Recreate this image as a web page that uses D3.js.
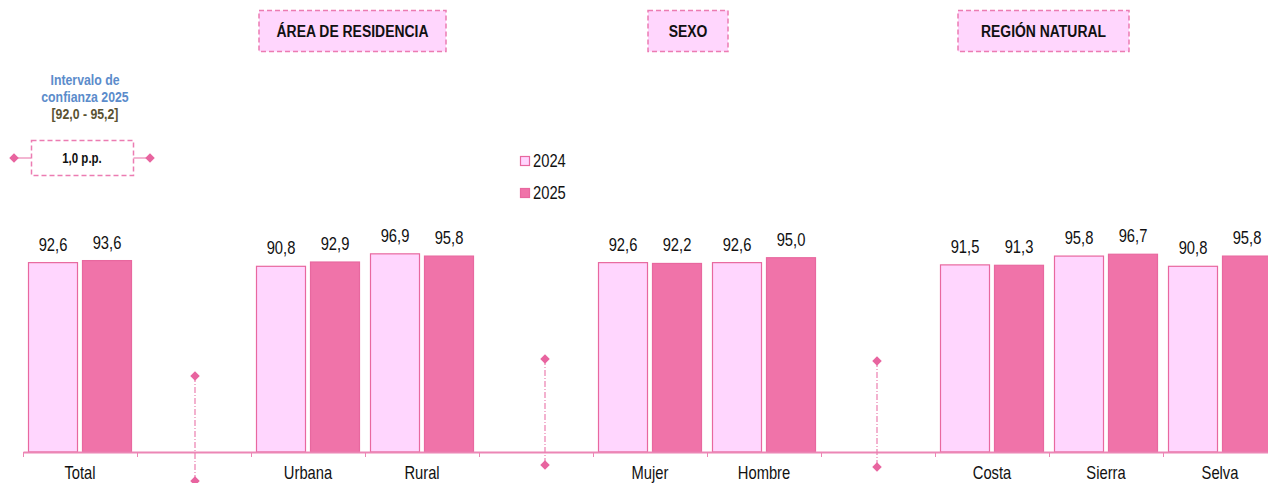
<!DOCTYPE html>
<html>
<head>
<meta charset="utf-8">
<script src="https://cdn.jsdelivr.net/npm/d3@7"></script>
<style>
  html, body { margin: 0; padding: 0; background: #fff; }
  svg { display: block; }
  text { font-family: "Liberation Sans", Arial, sans-serif; }
</style>
</head>
<body>
<div id="chart"></div>
<script>
// ---- data ----
const categories = ["Total", "", "Urbana", "Rural", " ", "Mujer", "Hombre", "  ", "Costa", "Sierra", "Selva"];
const series = ["2024", "2025"];
const values2024 = [92.6, null, 90.8, 96.9, null, 92.6, 92.6, null, 91.5, 95.8, 90.8];
const values2025 = [93.6, null, 92.9, 95.8, null, 92.2, 95.0, null, 91.3, 96.7, 95.8];
const groupHeaders = ["ÁREA DE RESIDENCIA", "SEXO", "REGIÓN NATURAL"];
const intervalTitle = ["Intervalo de", "confianza 2025"];
const intervalRange = "[92,0 - 95,2]";
const intervalWidth = "1,0 p.p.";

const W = 1268, H = 483;
const colors = { "2024": "#FFD6FE", "2025": "#F073A9" };
const strokeCol = "#E8689F";
const axisCol = "#EC86B5";
const NARROW = 0.82;
const fmt = v => d3.format(".1f")(v).replace(".", ",");

const svg = d3.select("#chart").append("svg").attr("width", W).attr("height", H);

// condensed text helper
function ntext(parent, tx, ty, str, opts = {}) {
  return parent.append("text")
    .attr("transform", `translate(${tx},${ty}) scale(${NARROW},1)`)
    .attr("text-anchor", opts.anchor || "middle")
    .attr("font-size", opts.size || 17)
    .attr("font-weight", opts.weight || "normal")
    .attr("fill", opts.fill || "#111")
    .text(str);
}

const x = d3.scaleBand().domain(categories).range([23, 1277]).padding(0);
const xs = d3.scaleBand().domain(series).range([0, x.bandwidth()]).paddingInner(0.074).paddingOuter(0.0926);
const y = d3.scaleLinear().domain([0, 100]).range([452, 247.5]);

const rows = categories.map((c, i) => ({ c, v: { "2024": values2024[i], "2025": values2025[i] } }));

// bars
const g = svg.append("g");
rows.forEach(r => {
  series.forEach(s => {
    const v = r.v[s];
    if (v == null) return;
    const bx = x(r.c) + xs(s);
    g.append("rect")
      .attr("x", bx + 0.5).attr("y", y(v))
      .attr("width", xs.bandwidth() - 1).attr("height", y(0) - y(v))
      .attr("fill", colors[s]).attr("stroke", strokeCol).attr("stroke-width", 1.2);
    ntext(g, bx + xs.bandwidth() / 2, y(v) - 12, fmt(v), { size: 18 });
  });
});

// axis
const axis = d3.axisBottom(x).tickSize(0).tickFormat(d => d.trim());
const ag = svg.append("g").attr("transform", `translate(0,${y(0)})`).call(axis);
ag.select(".domain").attr("stroke", axisCol).attr("stroke-width", 2);
ag.selectAll(".tick text")
  .attr("font-size", 18).attr("fill", "#111").attr("dy", 0).attr("y", 0)
  .attr("transform", `translate(0,27) scale(${NARROW},1)`)
  .style("font-family", '"Liberation Sans", Arial, sans-serif');
// boundary ticks
const bounds = categories.map(c => x(c)).concat([x.range()[1]]);
svg.append("g").selectAll("line").data(bounds).join("line")
  .attr("x1", d => d + 0.5).attr("x2", d => d + 0.5)
  .attr("y1", y(0)).attr("y2", y(0) + 5)
  .attr("stroke", axisCol).attr("stroke-width", 1);

// diamond marker
const diamondPath = d3.symbol().type(d3.symbolSquare).size(45)();
function diamond(cx, cy) {
  svg.append("path").attr("d", diamondPath)
    .attr("transform", `translate(${cx},${cy}) rotate(45)`)
    .attr("fill", "#E8649F");
}

// separators (dash-dot with diamonds)
const seps = [
  { c: "", dx: 1, top: 376, bot: 481 },
  { c: " ", dx: 9, top: 359, bot: 465 },
  { c: "  ", dx: -1, top: 361, bot: 467 }
];
seps.forEach(s => {
  const sx = x(s.c) + x.bandwidth() / 2 + s.dx;
  svg.append("line").attr("x1", sx).attr("x2", sx).attr("y1", s.top).attr("y2", s.bot)
    .attr("stroke", "#EC7FB0").attr("stroke-width", 1.2).attr("stroke-dasharray", "6,2,1,2");
  diamond(sx, s.top);
  diamond(sx, s.bot);
});

// group headers
const headerBoxes = [
  { t: groupHeaders[0], x0: 259, x1: 446 },
  { t: groupHeaders[1], x0: 648, x1: 728 },
  { t: groupHeaders[2], x0: 958, x1: 1129 }
];
headerBoxes.forEach(h => {
  svg.append("rect").attr("x", h.x0).attr("y", 10.5).attr("width", h.x1 - h.x0).attr("height", 41)
    .attr("fill", "#FFD6FD").attr("stroke", "#EC7CB2").attr("stroke-width", 1.5)
    .attr("stroke-dasharray", "5,3");
  ntext(svg, (h.x0 + h.x1) / 2, 37, h.t, { size: 17, weight: "bold" });
});

// legend
series.forEach((s, i) => {
  const ly = 156 + i * 32;
  svg.append("rect").attr("x", 520.5).attr("y", ly + 0.5).attr("width", 9).attr("height", 9)
    .attr("fill", colors[s]).attr("stroke", strokeCol).attr("stroke-width", 1.2);
  ntext(svg, 533, ly + 11, s, { size: 18, anchor: "start" });
});

// confidence interval annotation
intervalTitle.forEach((t, i) => {
  ntext(svg, 85, 85 + i * 17, t, { size: 15, weight: "bold", fill: "#5B8CCB" });
});
ntext(svg, 85, 119, intervalRange, { size: 15, weight: "bold", fill: "#5A5231" });
svg.append("line").attr("x1", 14).attr("x2", 31).attr("y1", 158).attr("y2", 158).attr("stroke", "#EC86B5").attr("stroke-width", 1.2);
svg.append("line").attr("x1", 133).attr("x2", 150).attr("y1", 158).attr("y2", 158).attr("stroke", "#EC86B5").attr("stroke-width", 1.2);
svg.append("rect").attr("x", 31.5).attr("y", 140.5).attr("width", 102).attr("height", 35)
  .attr("fill", "#fff").attr("stroke", "#EC7CB2").attr("stroke-width", 1.5).attr("stroke-dasharray", "5,3");
ntext(svg, 82, 163, intervalWidth, { size: 14, weight: "bold" });
diamond(14, 158);
diamond(150, 158);
</script>
</body>
</html>
